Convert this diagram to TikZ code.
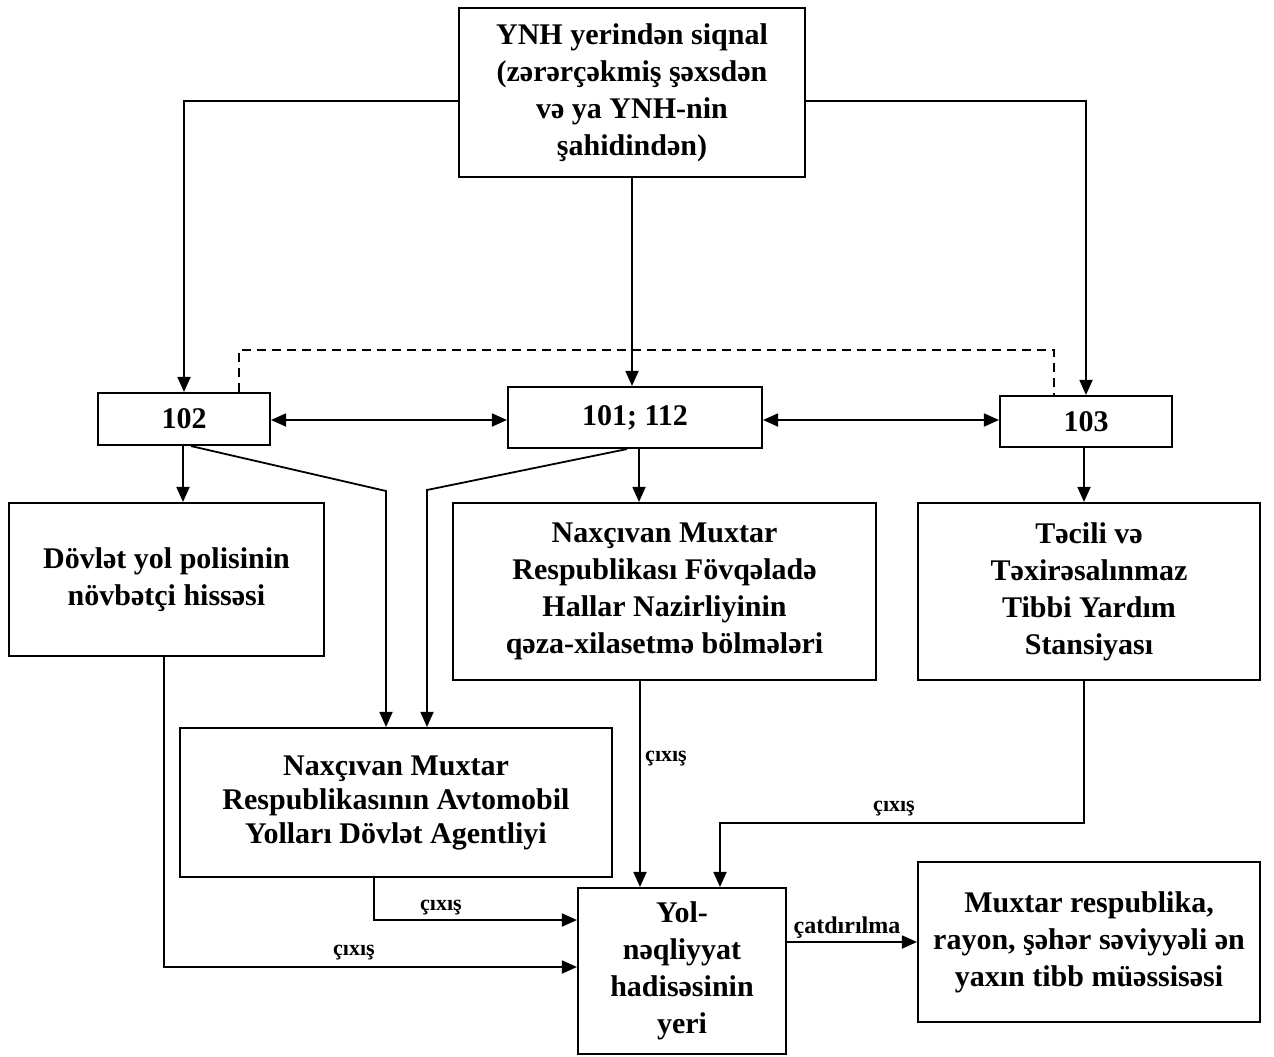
\documentclass[tikz,border=0pt]{standalone}
\usepackage{fontspec}
\setmainfont{Liberation Serif}
\usetikzlibrary{arrows.meta}
\tikzset{
  box/.style={draw, line width=2.1pt, inner sep=0pt, align=center,
    font=\bfseries\fontsize{30}{37}\selectfont},
  arr/.style={line width=1.8pt, -{Triangle[length=15pt,width=13pt]}},
  darr/.style={line width=1.8pt, {Triangle[length=15pt,width=13pt]}-{Triangle[length=15pt,width=13pt]}},
  lbl/.style={font=\bfseries\fontsize{22}{24}\selectfont, inner sep=0pt, anchor=base},
}
\begin{document}
\begin{tikzpicture}[x=1pt,y=-1pt]
\useasboundingbox[fill=white] (0,0) rectangle (1274,1057);

% boxes
\node[box, minimum width=346pt, minimum height=169pt] (top) at (632,92.5)
  {\rule{0pt}{8pt}YNH yerindən siqnal\\(zərərçəkmiş şəxsdən\\və ya YNH-nin\\şahidindən)};
\node[box, minimum width=172pt, minimum height=52pt] (n102) at (184,419) {102};
\node[box, minimum width=254pt, minimum height=61pt] (n101) at (635,417.5) {101; 112};
\node[box, minimum width=172pt, minimum height=51pt] (n103) at (1086,421.5) {103};
\node[box, minimum width=315pt, minimum height=153pt] (dov) at (166.5,579.5)
  {Dövlət yol polisinin\\növbətçi hissəsi};
\node[box, minimum width=423pt, minimum height=177pt] (fhn) at (664.5,591.5)
  {Naxçıvan Muxtar\\Respublikası Fövqəladə\\Hallar Nazirliyinin\\qəza-xilasetmə bölmələri};
\node[box, minimum width=342pt, minimum height=177pt] (tec) at (1089,591.5)
  {Təcili və\\Təxirəsalınmaz\\Tibbi Yardım\\Stansiyası};
\node[box, minimum width=432pt, minimum height=149pt,
  font=\bfseries\fontsize{30}{34}\selectfont] (avt) at (396,802.5)
  {Naxçıvan Muxtar\\Respublikasının Avtomobil\\Yolları Dövlət Agentliyi};
\node[box, minimum width=208pt, minimum height=166pt] (yol) at (682,971)
  {Yol-\\nəqliyyat\\hadisəsinin\\yeri};
\node[box, minimum width=342pt, minimum height=160pt] (mux) at (1089,942)
  {Muxtar respublika,\\rayon, şəhər səviyyəli ən\\yaxın tibb müəssisəsi};

% from top box
\draw[arr] (top.west |- 0,101) -| (n102.north);
\draw[arr] (top.east |- 0,101) -| (n103.north);
\draw[arr] (top.south) -- (top.south |- n101.north);

% dashed link
\draw[line width=1.8pt, dash pattern=on 9pt off 6pt]
  (n102.north -| 239,0) |- (1054,350) -- (n103.north -| 1054,0);

% double arrows
\draw[darr] (n102.east |- 0,420) -- (n101.west |- 0,420);
\draw[darr] (n101.east |- 0,420) -- (n103.west |- 0,420);

% downward
\draw[arr] (n102.south -| 183,0) -- (dov.north -| 183,0);
\draw[arr] (n102.south -| 191,0) -- (386,491) -- (avt.north -| 386,0);
\draw[arr] (n101.south -| 627,0) -- (427,490) -- (avt.north -| 427,0);
\draw[arr] (n101.south -| 639,0) -- (fhn.north -| 639,0);
\draw[arr] (n103.south -| 1084,0) -- (tec.north -| 1084,0);

% to accident place
\draw[arr] (dov.south -| 164,0) |- (yol.west |- 0,967);
\node[lbl] (l1) at (354,955) {çıxış};
\draw[arr] (avt.south -| 374,0) |- (yol.west |- 0,920);
\node[lbl] (l2) at (441,910) {çıxış};
\draw[arr] (fhn.south -| 640,0) -- (yol.north -| 640,0);
\node[lbl] (l3) at (666,761) {çıxış};
\draw[arr] (tec.south -| 1084,0) |- (720,823) -- (yol.north -| 720,0);
\node[lbl] (l4) at (894,811) {çıxış};
\draw[arr] (yol.east |- 0,942) -- (mux.west |- 0,942);
\node[lbl, font=\bfseries\fontsize{24}{26}\selectfont] (l5) at (847,933) {çatdırılma};
\end{tikzpicture}
\end{document}
